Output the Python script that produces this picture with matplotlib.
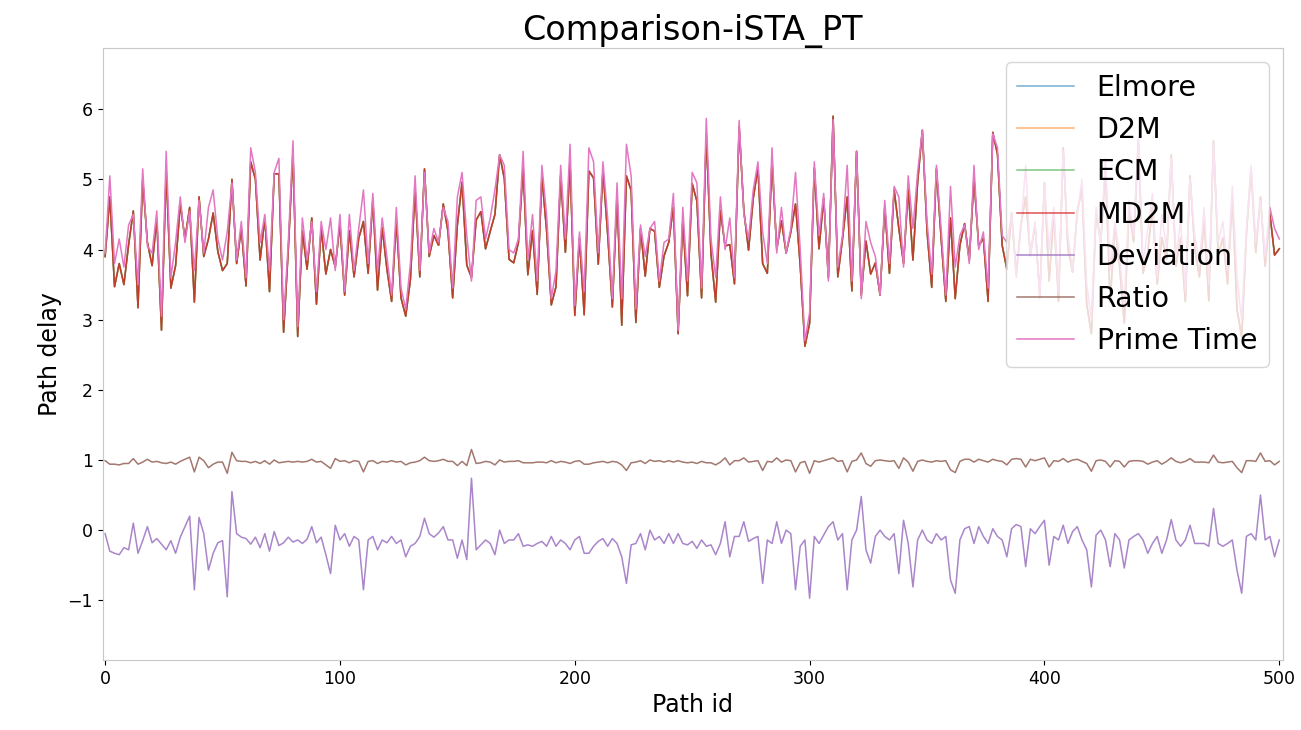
import numpy as np
import matplotlib
matplotlib.use("Agg")
import matplotlib.pyplot as plt

# path ids (sampled every 2nd path)
path_id = np.arange(0, 501, 2)

# Prime Time delay
prime_time = [
    3.95, 5.05, 3.8, 4.15, 3.75, 4.35, 4.5, 3.5, 5.15, 4.05,
    3.95, 4.55, 3.05, 5.4, 3.6, 4.1, 4.75, 4.1, 4.55, 3.7,
    4.7, 3.95, 4.6, 4.85, 4.15, 3.85, 4.25, 4.95, 3.85, 4.4,
    3.6, 5.45, 5.1, 4.1, 4.5, 3.7, 5.1, 5.3, 3.0, 4.1,
    5.55, 2.9, 4.45, 3.85, 4.4, 3.4, 4.4, 4.0, 4.45, 3.7,
    4.5, 3.4, 4.5, 3.7, 4.3, 4.85, 3.8, 4.8, 3.7, 4.45,
    3.9, 3.35, 4.6, 3.45, 3.15, 3.8, 5.05, 3.7, 5.1, 3.95,
    4.3, 4.1, 4.6, 4.4, 3.45, 4.75, 5.1, 4.2, 3.55, 4.7,
    4.75, 4.15, 4.45, 4.85, 5.35, 5.2, 4.0, 3.95, 4.15, 5.4,
    3.85, 4.5, 3.55, 5.2, 4.5, 3.3, 3.7, 5.2, 4.15, 5.5,
    3.2, 4.25, 3.4, 5.45, 5.25, 3.95, 5.25, 4.45, 3.3, 4.95,
    3.3, 5.5, 5.05, 3.15, 4.35, 3.9, 4.3, 4.4, 3.55, 4.1,
    4.15, 4.8, 2.85, 4.6, 3.55, 5.1, 4.95, 3.45, 5.87, 4.15,
    3.6, 4.75, 4.0, 4.45, 3.6, 5.84, 4.5, 4.15, 4.85, 5.25,
    4.25, 3.8, 5.45, 3.95, 4.6, 3.95, 4.3, 5.1, 4.0, 2.7,
    3.1, 5.25, 4.2, 4.8, 3.55, 5.85, 3.75, 4.2, 5.2, 3.55,
    5.4, 3.3, 4.4, 4.1, 3.9, 3.35, 4.7, 3.8, 4.9, 4.75,
    3.75, 5.05, 4.3, 5.1, 5.7, 4.4, 3.65, 5.2, 4.3, 3.35,
    4.9, 3.75, 4.2, 4.35, 3.8, 5.2, 4.0, 4.25, 3.45, 5.65,
    5.45, 4.2, 4.1, 4.5, 3.6, 4.3, 5.2, 3.9, 4.4, 3.3,
    4.9, 4.0, 4.6, 3.4, 5.4, 4.2, 3.7, 4.5, 5.0, 3.5,
    3.0, 4.6, 4.1, 5.3, 3.7, 4.4, 3.9, 3.2, 4.7, 4.2,
    5.6, 3.8, 4.3, 4.8, 3.6, 4.5, 4.0, 5.3, 3.9, 4.4,
    3.4, 5.0, 4.2, 3.8, 4.6, 3.5, 5.5, 4.1, 4.4, 3.7,
    4.9, 3.6, 3.0, 4.3, 5.2, 4.1, 4.7, 3.9, 4.6, 4.3,
    4.15,
]

# MD2M delay (Elmore / D2M / ECM sit right on it in the picture)
md2m = [
    3.9, 4.75, 3.47, 3.8, 3.5, 4.07, 4.55, 3.17, 5.0, 4.1,
    3.77, 4.43, 2.85, 5.12, 3.45, 3.77, 4.65, 4.15, 4.6, 3.25,
    4.75, 3.9, 4.15, 4.52, 3.97, 3.7, 3.8, 5.0, 3.8, 4.3,
    3.48, 5.25, 5.0, 3.85, 4.45, 3.4, 5.08, 5.08, 2.82, 4.0,
    5.38, 2.76, 4.26, 3.72, 4.45, 3.22, 4.3, 3.65, 4.0, 3.75,
    4.36, 3.35, 4.27, 3.61, 4.16, 4.4, 3.66, 4.71, 3.42, 4.31,
    3.72, 3.26, 4.41, 3.31, 3.05, 3.57, 4.86, 3.61, 5.15, 3.9,
    4.2, 4.06, 4.65, 4.26, 3.31, 4.35, 4.96, 3.78, 3.6, 4.42,
    4.54, 4.01, 4.26, 4.5, 5.35, 5.01, 3.86, 3.81, 4.1, 5.17,
    3.64, 4.27, 3.36, 5.04, 4.27, 3.21, 3.47, 5.06, 3.96, 5.22,
    3.06, 4.16, 3.07, 5.12, 5.02, 3.79, 5.13, 4.22, 3.18, 4.76,
    2.92, 5.05, 4.84, 2.96, 4.3, 3.62, 4.3, 4.26, 3.46, 3.91,
    4.1, 4.61, 2.8, 4.41, 3.34, 4.94, 4.69, 3.31, 5.64, 3.94,
    3.25, 4.56, 4.05, 4.07, 3.51, 5.75, 4.55, 3.99, 4.73, 5.16,
    3.8, 3.66, 5.26, 4.0, 4.41, 3.95, 4.25, 4.65, 3.77, 2.62,
    2.95, 5.16, 4.01, 4.73, 3.6, 5.9, 3.61, 4.15, 4.75, 3.41,
    5.4, 3.35, 4.12, 3.65, 3.81, 3.35, 4.61, 3.66, 4.85, 4.3,
    3.8, 4.86, 3.85, 4.96, 5.7, 4.26, 3.46, 5.15, 4.16, 3.26,
    4.45, 3.3, 4.06, 4.37, 3.85, 5.01, 4.05, 4.16, 3.26, 5.67,
    5.36, 4.06, 3.72, 4.52, 3.65, 4.35, 4.75, 3.92, 4.35, 3.35,
    4.95, 3.55, 4.51, 3.26, 5.45, 4.01, 3.68, 4.55, 4.86, 3.22,
    2.8, 4.53, 4.1, 5.16, 3.25, 4.35, 3.76, 2.95, 4.56, 4.11,
    5.55, 3.66, 3.97, 4.61, 3.51, 4.17, 3.86, 5.35, 3.76, 4.17,
    3.26, 5.05, 4.01, 3.61, 4.41, 3.27, 5.55, 3.91, 4.17, 3.51,
    4.76, 3.15, 2.75, 4.21, 5.15, 3.96, 4.75, 3.76, 4.51, 3.92,
    4.01,
]
elmore = md2m
d2m = md2m
ecm = md2m

deviation = [
    -0.05, -0.3, -0.33, -0.35, -0.25, -0.28, 0.1, -0.33, -0.15, 0.05,
    -0.18, -0.12, -0.2, -0.28, -0.15, -0.33, -0.1, 0.05, 0.2, -0.85,
    0.18, -0.05, -0.57, -0.33, -0.18, -0.15, -0.95, 0.55, -0.05, -0.1,
    -0.12, -0.2, -0.1, -0.25, -0.05, -0.3, -0.02, -0.22, -0.18, -0.1,
    -0.17, -0.14, -0.19, -0.13, 0.05, -0.18, -0.1, -0.35, -0.62, 0.07,
    -0.14, -0.05, -0.23, -0.09, -0.14, -0.85, -0.14, -0.09, -0.28, -0.14,
    -0.18, -0.09, -0.19, -0.14, -0.38, -0.23, -0.19, -0.09, 0.17, -0.05,
    -0.1, -0.04, 0.05, -0.14, -0.14, -0.4, -0.14, -0.42, 0.74, -0.28,
    -0.21, -0.14, -0.19, -0.35, 0.0, -0.19, -0.14, -0.14, -0.05, -0.23,
    -0.21, -0.23, -0.19, -0.16, -0.23, -0.09, -0.23, -0.14, -0.19, -0.28,
    -0.14, -0.09, -0.33, -0.33, -0.23, -0.16, -0.12, -0.23, -0.12, -0.19,
    -0.38, -0.76, -0.21, -0.19, -0.05, -0.28, 0.0, -0.14, -0.09, -0.19,
    -0.05, -0.19, -0.05, -0.19, -0.21, -0.16, -0.26, -0.14, -0.23, -0.21,
    -0.35, -0.19, 0.12, -0.38, -0.09, -0.09, 0.12, -0.16, -0.12, -0.09,
    -0.76, -0.14, -0.19, 0.12, -0.19, 0.0, -0.05, -0.85, -0.23, -0.14,
    -0.97, -0.09, -0.19, -0.07, 0.05, 0.12, -0.14, -0.05, -0.85, -0.14,
    0.0, 0.48, -0.28, -0.47, -0.09, 0.0, -0.09, -0.14, -0.05, -0.62,
    0.14, -0.19, -0.81, -0.14, 0.0, -0.14, -0.19, -0.05, -0.14, -0.09,
    -0.71, -0.9, -0.14, 0.02, 0.05, -0.19, 0.05, -0.09, -0.19, 0.02,
    -0.09, -0.14, -0.38, 0.02, 0.08, 0.05, -0.52, 0.02, -0.05, 0.05,
    0.14, -0.5, -0.09, -0.14, 0.07, -0.19, -0.02, 0.05, -0.14, -0.28,
    -0.81, -0.07, 0.0, -0.14, -0.52, -0.05, -0.14, -0.54, -0.14, -0.09,
    -0.05, -0.14, -0.33, -0.19, -0.09, -0.33, -0.14, 0.15, -0.14, -0.23,
    -0.14, 0.07, -0.19, -0.19, -0.19, -0.23, 0.31, -0.19, -0.23, -0.19,
    -0.14, -0.57, -0.9, -0.09, -0.05, -0.14, 0.5, -0.14, -0.09, -0.38,
    -0.14,
]

ratio = [
    0.99, 0.94, 0.94, 0.93, 0.95, 0.95, 1.02, 0.94, 0.97, 1.01,
    0.97, 0.98, 0.96, 0.95, 0.97, 0.94, 0.98, 1.01, 1.04, 0.83,
    1.04, 0.99, 0.89, 0.94, 0.97, 0.97, 0.81, 1.11, 0.99, 0.98,
    0.98, 0.96, 0.98, 0.95, 0.99, 0.94, 1.0, 0.96, 0.97, 0.98,
    0.97, 0.98, 0.97, 0.98, 1.01, 0.97, 0.98, 0.93, 0.88, 1.02,
    0.98, 0.99, 0.96, 0.99, 0.98, 0.83, 0.98, 0.99, 0.95, 0.98,
    0.97, 0.99, 0.97, 0.98, 0.93, 0.96, 0.97, 0.99, 1.04, 0.99,
    0.98, 0.99, 1.01, 0.98, 0.98, 0.92, 0.98, 0.92, 1.15, 0.95,
    0.96, 0.98, 0.97, 0.93, 1.0, 0.97, 0.98, 0.98, 0.99, 0.96,
    0.96, 0.96, 0.97, 0.97, 0.96, 0.99, 0.96, 0.98, 0.97, 0.95,
    0.98, 0.99, 0.94, 0.94, 0.96, 0.97, 0.98, 0.96, 0.98, 0.97,
    0.93, 0.85, 0.96, 0.97, 0.99, 0.95, 1.0, 0.98, 0.99, 0.97,
    0.99, 0.97, 0.99, 0.97, 0.96, 0.97, 0.95, 0.98, 0.96, 0.96,
    0.93, 0.97, 1.03, 0.93, 0.99, 0.99, 1.03, 0.97, 0.98, 0.99,
    0.85, 0.98, 0.97, 1.03, 0.97, 1.0, 0.99, 0.83, 0.96, 0.98,
    0.81, 0.99, 0.97, 0.99, 1.01, 1.03, 0.98, 0.99, 0.83, 0.98,
    1.0, 1.10, 0.95, 0.91, 0.99, 1.0, 0.99, 0.98, 0.99, 0.88,
    1.03, 0.97, 0.84, 0.98, 1.0, 0.98, 0.97, 0.99, 0.98, 0.99,
    0.86, 0.82, 0.98, 1.01, 1.01, 0.97, 1.01, 0.99, 0.97, 1.01,
    0.99, 0.98, 0.93, 1.01, 1.02, 1.01, 0.90, 1.01, 0.99, 1.01,
    1.03, 0.90, 0.99, 0.98, 1.02, 0.97, 1.0, 1.01, 0.98, 0.95,
    0.84, 0.99, 1.0, 0.98, 0.90, 0.99, 0.98, 0.90, 0.98, 0.99,
    0.99, 0.98, 0.94, 0.97, 0.99, 0.94, 0.98, 1.03, 0.98, 0.96,
    0.98, 1.02, 0.97, 0.97, 0.97, 0.96, 1.07, 0.97, 0.96, 0.97,
    0.98, 0.89, 0.82, 0.99, 0.99, 0.98, 1.10, 0.98, 0.99, 0.93,
    0.98,
]

series = [
    ("Elmore", elmore, 0.6),
    ("D2M", d2m, 0.6),
    ("ECM", ecm, 0.6),
    ("MD2M", md2m, 0.8),
    ("Deviation", deviation, 0.8),
    ("Ratio", ratio, 0.8),
    ("Prime Time", prime_time, 1.0),
]

plt.rcParams['font.family'] = ['DejaVu Sans']

fig = plt.figure(figsize=(13.01, 7.3), dpi=100)
ax = fig.add_axes([0.079, 0.096, 0.907, 0.838])

for name, vals, a in series:
    ax.plot(path_id, vals, label=name, linewidth=1.1, alpha=a)

ax.set_xlim(-1, 501.5)
ax.set_ylim(-1.85, 6.87)
ax.set_title("Comparison-iSTA_PT", fontsize=24)
ax.set_xlabel("Path id", fontsize=17)
ax.set_ylabel("Path delay", fontsize=17)
ax.tick_params(labelsize=12.5)
for s in ax.spines.values():
    s.set_color("#c8c8c8")

ax.legend(loc="upper right", fontsize=20.5, labelspacing=0.5)

plt.savefig("out.png", dpi=100)
